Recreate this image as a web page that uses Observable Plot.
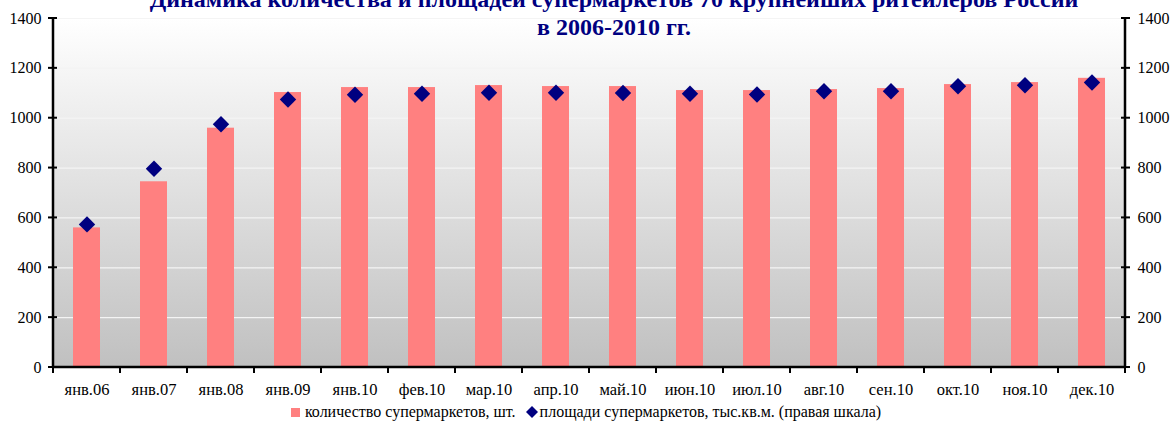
<!DOCTYPE html>
<html>
<head>
<meta charset="utf-8">
<script src="https://cdn.jsdelivr.net/npm/d3@7"></script>
<script src="https://cdn.jsdelivr.net/npm/@observablehq/plot@0.6"></script>
<style>
  html, body { margin: 0; padding: 0; background: #fff; }
  #wrap { position: relative; width: 1172px; height: 422px; overflow: hidden; font-family: "Liberation Serif", serif; }
  #chart svg, #chart svg text { font-family: "Liberation Serif", serif !important; }
  .title { position: absolute; left: 28px; width: 1172px; text-align: center; color: #000080; font-weight: bold; font-size: 24px; white-space: nowrap; line-height: 1; }
  #legend { position: absolute; left: 0; width: 1172px; top: 403px; text-align: center; font-size: 16px; color: #000; white-space: nowrap; line-height: 18px; }
  #legend .sw { display: inline-block; width: 9px; height: 9px; background: #ff8080; margin-right: 5px; vertical-align: 0px; }
  #legend svg { vertical-align: -1px; margin-left: 6px; margin-right: 2px; }
</style>
</head>
<body>
<div id="wrap">
  <div id="chart"></div>
  <div class="title" style="top:-13px">Динамика количества и площадей супермаркетов 70 крупнейших ритейлеров России</div>
  <div class="title" style="top:15px">в 2006-2010 гг.</div>
  <div id="legend"><span class="sw"></span>количество супермаркетов, шт. <svg width="12" height="12" viewBox="0 0 12 12"><path d="M6 0 L12 6 L6 12 L0 6 Z" fill="#000080"/></svg>площади супермаркетов, тыс.кв.м. (правая шкала)</div>
</div>
<script>
const categories = ["янв.06","янв.07","янв.08","янв.09","янв.10","фев.10","мар.10","апр.10","май.10","июн.10","июл.10","авг.10","сен.10","окт.10","ноя.10","дек.10"];
const storeCounts = [560, 745, 960, 1103, 1123, 1123, 1131, 1127, 1127, 1111, 1111, 1115, 1119, 1135, 1143, 1160];
const storeAreas = [574, 797, 976, 1075, 1094, 1098, 1102, 1102, 1101, 1098, 1095, 1108, 1108, 1128, 1132, 1143];
const yTicks = [0, 200, 400, 600, 800, 1000, 1200, 1400];

const data = categories.map((c, i) => ({cat: c, count: storeCounts[i], area: storeAreas[i]}));
const serif = "Liberation Serif, serif";

const chart = Plot.plot({
  width: 1172,
  height: 422,
  marginLeft: 52,
  marginRight: 47,
  marginTop: 18,
  marginBottom: 55,
  style: "font-family: 'Liberation Serif', serif; font-size: 16px; color: #000; background: transparent;",
  x: {type: "band", domain: categories, paddingInner: 0.6, paddingOuter: 0.3, label: null},
  y: {domain: [0, 1400], label: null},
  marks: [
    Plot.frame({fill: "url(#bggrad)", stroke: "none"}),
    Plot.ruleY(yTicks.slice(1), {stroke: "#f4f4f4", strokeWidth: 1.2}),
    Plot.barY(data, {x: "cat", y: "count", fill: "#ff8080"}),
    Plot.dot(data, {x: "cat", y: "area", symbol: "diamond2", r: 7.4, fill: "#000080", stroke: "none"}),
    Plot.axisY({anchor: "left", ticks: yTicks, tickFormat: d => String(d), tickSize: 0, tickPadding: 11, fontSize: 16, fontFamily: serif, label: null}),
    Plot.axisY({anchor: "right", ticks: yTicks, tickFormat: d => String(d), tickSize: 0, tickPadding: 12, fontSize: 16, fontFamily: serif, label: null}),
    Plot.axisX({anchor: "bottom", tickSize: 0, tickPadding: 16, fontSize: 16.5, fontFamily: serif, label: null})
  ]
});

// gradient & axis lines / ticks from the plot's own scales
const svg = d3.select(chart);
svg.attr("font-family", serif);
svg.selectAll("text").style("font-family", "'Liberation Serif', serif");
const defs = svg.insert("defs", ":first-child");
const g = defs.append("linearGradient").attr("id", "bggrad").attr("x1", 0).attr("y1", 1).attr("x2", 0).attr("y2", 0);
g.append("stop").attr("offset", "0%").attr("stop-color", "#c0c0c0");
g.append("stop").attr("offset", "100%").attr("stop-color", "#ffffff");

const xs = chart.scale("x");
const ys = chart.scale("y");
const y0 = ys.apply(0), yTop = ys.apply(1400);
const half = (xs.step - xs.bandwidth) / 2;
const bounds = categories.map(c => xs.apply(c) - half);
bounds.push(xs.apply(categories[categories.length - 1]) + xs.bandwidth + half);
const xL = bounds[0], xR = bounds[bounds.length - 1];

const ax = svg.append("g").attr("stroke", "#000").attr("fill", "none");
ax.append("line").attr("x1", xL).attr("x2", xL).attr("y1", yTop).attr("y2", y0 + 1).attr("stroke-width", 2.5);
ax.append("line").attr("x1", xR).attr("x2", xR).attr("y1", yTop).attr("y2", y0 + 1).attr("stroke-width", 2.5);
ax.append("line").attr("x1", xL).attr("x2", xR).attr("y1", y0).attr("y2", y0).attr("stroke-width", 2.5);
yTicks.forEach(t => {
  const yy = ys.apply(t);
  ax.append("line").attr("x1", xL - 5).attr("x2", xL + 4).attr("y1", yy).attr("y2", yy).attr("stroke-width", 2);
  ax.append("line").attr("x1", xR - 4).attr("x2", xR + 5).attr("y1", yy).attr("y2", yy).attr("stroke-width", 2);
});
bounds.forEach(b => {
  ax.append("line").attr("x1", b).attr("x2", b).attr("y1", y0).attr("y2", y0 + 6).attr("stroke-width", 2);
});

document.getElementById("chart").appendChild(chart);
</script>
</body>
</html>
